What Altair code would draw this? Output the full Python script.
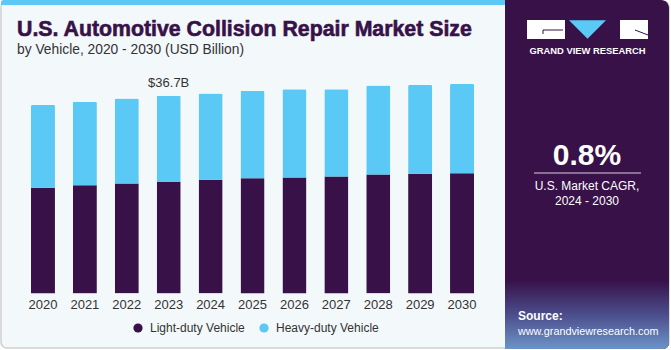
import altair as alt
import pandas as pd

# ---------------- data ----------------
years = ["2020", "2021", "2022", "2023", "2024", "2025", "2026", "2027", "2028", "2029", "2030"]
light_duty = [19.6, 20.1, 20.4, 20.7, 21.1, 21.4, 21.5, 21.7, 22.1, 22.2, 22.3]
heavy_duty = [15.4, 15.5, 15.8, 16.0, 16.0, 16.2, 16.4, 16.2, 16.5, 16.5, 16.6]
series_names = ["Light-duty Vehicle", "Heavy-duty Vehicle"]
series_colors = ["#371148", "#5BC9F5"]
annot_year = "2023"
annot_label = "$36.7B"

title_text = "U.S. Automotive Collision Repair Market Size"
subtitle_text = "by Vehicle, 2020 - 2030 (USD Billion)"
cagr_value = "0.8%"
cagr_line1 = "U.S. Market CAGR,"
cagr_line2 = "2024 - 2030"
brand_text = "GRAND VIEW RESEARCH"
source_label = "Source:"
source_url = "www.grandviewresearch.com"

rows = []
for i, y in enumerate(years):
    rows.append({"year": y, "series": series_names[0], "value": light_duty[i], "idx": 0})
    rows.append({"year": y, "series": series_names[1], "value": heavy_duty[i], "idx": 1})
df = pd.DataFrame(rows)

ai = years.index(annot_year)
annot_df = pd.DataFrame({"year": [annot_year], "total": [light_duty[ai] + heavy_duty[ai]], "label": [annot_label]})

# ---------------- layout ----------------
OX, OY = 10, 78
W, H = 485, 215.4
FONT = "Liberation Sans"

one = alt.Data(values=[{"a": 1}])


def rect(x1, y1, x2, y2, **kw):
    return alt.Chart(one).mark_rect(**kw).encode(
        x=alt.value(x1 - OX), x2=alt.value(x2 - OX),
        y=alt.value(y1 - OY), y2=alt.value(y2 - OY))


def rule(x1, y1, x2, y2, **kw):
    return alt.Chart(one).mark_rule(**kw).encode(
        x=alt.value(x1 - OX), x2=alt.value(x2 - OX),
        y=alt.value(y1 - OY), y2=alt.value(y2 - OY))


def text(px, py, s, **kw):
    kw.setdefault("font", FONT)
    kw.setdefault("baseline", "alphabetic")
    return alt.Chart(one).mark_text(text=s, **kw).encode(
        x=alt.value(px - OX), y=alt.value(py - OY))


card = rect(1, 1, 669, 348, fill="#F3F8FB", stroke="#CFCFCF", strokeWidth=1.5, cornerRadius=6)
strip = rect(1, 0, 508, 5, color="#5BC9F5", cornerRadiusTopLeft=5)
panel = rect(505, 0, 669, 349, color="#371148", cornerRadiusTopRight=8, cornerRadiusBottomRight=6)
grad = rect(505, 280, 669, 349, cornerRadiusBottomRight=6,
            fill=alt.LinearGradient(gradient="linear", x1=0, x2=0, y1=0, y2=1,
                                    stops=[alt.GradientStop(color="#371148", offset=0),
                                           alt.GradientStop(color="#4C4D8C", offset=0.5),
                                           alt.GradientStop(color="#6C94C8", offset=1)]))

logo_l = rect(527, 20, 565, 39, color="#FFFFFF")
logo_r = rect(620, 20, 648, 39, color="#FFFFFF")
logo_l1 = rule(543, 30, 563, 30, color="#371148", strokeWidth=1)
logo_l2 = rule(543, 30, 543, 34, color="#371148", strokeWidth=1)
logo_r1 = rule(635, 30, 648, 35, color="#371148", strokeWidth=1)
tri = alt.Chart(one).mark_point(shape="M -1 -0.5 L 1 -0.5 L 0 0.5 Z", filled=True, opacity=1,
                                 size=1369, color="#5BC9F5").encode(
    x=alt.value(587.5 - OX), y=alt.value(29.5 - OY))
brand = text(587.5, 54, brand_text, align="center", fontSize=9.4, fontWeight="bold", color="#FFFFFF")

cagr = text(587, 165, cagr_value, align="center", fontSize=30, fontWeight="bold", color="#FFFFFF")
cagr_rule = rule(534, 173, 641, 173, color="#FFFFFF", strokeWidth=1, opacity=0.8)
cagr_t1 = text(587, 190, cagr_line1, align="center", fontSize=12, color="#FFFFFF")
cagr_t2 = text(587, 205, cagr_line2, align="center", fontSize=12, color="#FFFFFF")
src1 = text(518, 320, source_label, align="left", fontSize=12, fontWeight="bold", color="#FFFFFF")
src2 = text(518, 335, source_url, align="left", fontSize=10.8, color="#FFFFFF")

title = text(17, 36, title_text, align="left", fontSize=21.3, fontWeight="bold", color="#371148",
             stroke="#371148", strokeWidth=0.6)
subtitle = text(17, 54, subtitle_text, align="left", fontSize=13.8, color="#333333")

xscale = alt.Scale(domain=years, paddingInner=0.427, paddingOuter=0.5)
yscale = alt.Scale(domain=[0, 40], nice=False, zero=True)

bars = alt.Chart(df).mark_bar(cornerRadiusTopLeft=1.5, cornerRadiusTopRight=1.5).encode(
    x=alt.X("year:N", scale=xscale, sort=years,
            axis=alt.Axis(title=None, domain=False, ticks=False, labelAngle=0, zindex=2,
                          labelFontSize=13, labelColor="#333333", labelFont=FONT,
                          labelPadding=5)),
    y=alt.Y("value:Q", stack="zero", scale=yscale, axis=None),
    color=alt.Color("series:N", sort=series_names,
                    scale=alt.Scale(domain=series_names, range=series_colors),
                    legend=alt.Legend(title=None, orient="none", direction="horizontal",
                                      legendX=122, legendY=244, symbolType="circle",
                                      symbolSize=85, symbolStrokeWidth=0, labelFontSize=12,
                                      labelFont=FONT, labelColor="#333333", labelOffset=6,
                                      columnPadding=13, padding=0, zindex=2)),
    order=alt.Order("idx:Q"),
)

annot = alt.Chart(annot_df).mark_text(dy=-9, fontSize=13, font=FONT, color="#333333",
                                      baseline="alphabetic").encode(
    x=alt.X("year:N", scale=xscale, sort=years),
    y=alt.Y("total:Q", scale=yscale),
    text="label:N",
)

chart = alt.layer(
    card, strip, panel, grad, logo_l, logo_r, logo_l1, logo_l2, logo_r1, tri, brand,
    cagr, cagr_rule, cagr_t1, cagr_t2, src1, src2, title, subtitle, bars, annot,
).properties(
    width=W, height=H,
    autosize=alt.AutoSizeParams(type="none"),
    padding={"left": OX, "top": OY, "right": 671 - OX - W, "bottom": 350 - OY - H},
).configure_view(stroke=None).configure(background="#FFFFFF")

chart.save("out.html", embed_options={"renderer": "svg", "actions": False})
